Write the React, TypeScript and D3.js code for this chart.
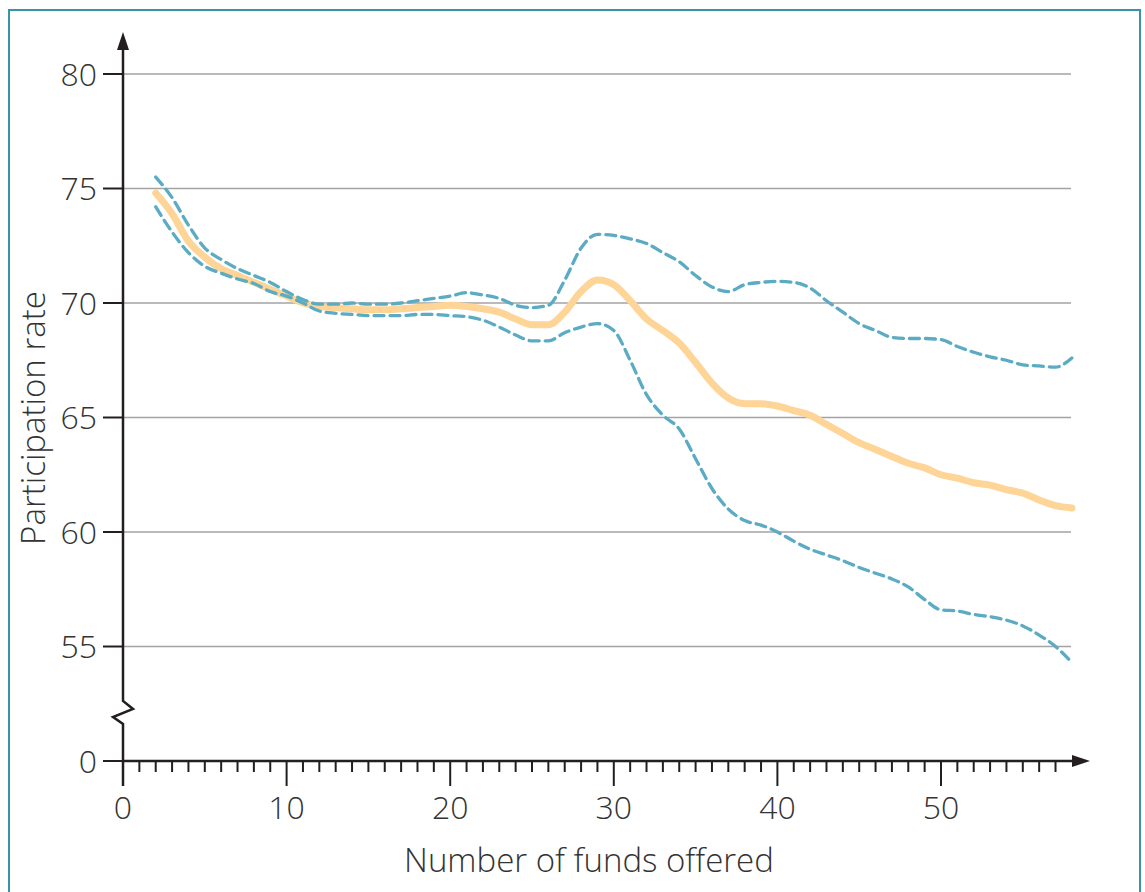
import React, { useRef, useEffect } from "react";
import { select, scaleLinear, line, curveMonotoneX } from "d3";

// Participation rate vs number of funds offered

const funds = [2, 3, 4, 5, 6, 7, 8, 9, 10, 11, 12, 13, 14, 15, 16, 17, 18, 19, 20, 21, 22, 23, 24, 25, 26, 27, 28, 29, 30,
  31, 32, 33, 34, 35, 36, 37, 38, 39, 40, 41, 42, 43, 44, 45, 46, 47, 48, 49, 50, 51, 52, 53, 54, 55, 56, 57, 58];

const meanRate = [74.8, 73.9, 72.7, 72.0, 71.5, 71.2, 70.9, 70.6, 70.3, 70.0, 69.85, 69.8, 69.75, 69.7, 69.7, 69.75, 69.8,
  69.85, 69.9, 69.85, 69.75, 69.6, 69.3, 69.05, 69.05, 69.6, 70.5, 71.0, 70.8, 70.1, 69.3, 68.8, 68.25, 67.4, 66.5, 65.85,
  65.6, 65.6, 65.5, 65.3, 65.1, 64.7, 64.3, 63.9, 63.6, 63.3, 63.0, 62.8, 62.5, 62.35, 62.15, 62.05, 61.85, 61.7, 61.4,
  61.15, 61.05];

const upperRate = [75.5, 74.6, 73.4, 72.4, 71.9, 71.5, 71.2, 70.9, 70.5, 70.15, 69.95, 69.95, 70.0, 69.95, 69.95, 70.0,
  70.1, 70.2, 70.3, 70.45, 70.35, 70.2, 69.9, 69.8, 69.9, 71.0, 72.4, 73.0, 72.95, 72.8, 72.6, 72.2, 71.8, 71.2, 70.7,
  70.5, 70.8, 70.9, 70.95, 70.9, 70.65, 70.1, 69.6, 69.1, 68.8, 68.5, 68.45, 68.45, 68.4, 68.1, 67.85, 67.65, 67.5, 67.3,
  67.25, 67.2, 67.6];

const lowerRate = [74.2, 73.1, 72.2, 71.6, 71.3, 71.05, 70.85, 70.5, 70.3, 70.0, 69.65, 69.55, 69.5, 69.45, 69.45, 69.45,
  69.5, 69.5, 69.45, 69.4, 69.25, 68.95, 68.6, 68.35, 68.35, 68.7, 68.95, 69.1, 68.8, 67.5, 66.0, 65.1, 64.5, 63.2, 61.9,
  61.0, 60.5, 60.3, 60.0, 59.6, 59.25, 59.0, 58.75, 58.45, 58.2, 57.95, 57.6, 57.05, 56.6, 56.55, 56.4, 56.3, 56.15, 55.9,
  55.5, 55.0, 54.3];

// the axis is broken: the bottom position (50) is labelled 0
const yTickValues = [50, 55, 60, 65, 70, 75, 80];
const yTickLabels = ["0", "55", "60", "65", "70", "75", "80"];
const xMajor = [0, 10, 20, 30, 40, 50];

const width = 1145, height = 892;
const textColor = "#333",
  axisColor = "#231f20",
  gridColor = "#a3a3a3",
  orange = "#fed497",
  teal = "#5aabc3",
  frame = "#3a93a8";
const font = "'Open Sans', 'Noto Sans', sans-serif";
const tickSize = 32, titleSize = 33;

export default function App() {
  const svgRef = useRef(null);

  useEffect(() => {
    const svg = select(svgRef.current);
    svg.selectAll("*").remove();

    const x = scaleLinear().domain([0, 50]).range([123, 941]);
    const y = scaleLinear().domain([50, 80]).range([761, 74]);

    svg.append("rect")
      .attr("x", 9).attr("y", 10)
      .attr("width", 1131).attr("height", 900)
      .attr("fill", "white")
      .attr("stroke", frame).attr("stroke-width", 2);

    // grid lines
    svg.append("g").selectAll("line")
      .data(yTickValues.slice(1))
      .join("line")
      .attr("x1", x(0)).attr("x2", 1071)
      .attr("y1", d => y(d)).attr("y2", d => y(d))
      .attr("stroke", gridColor).attr("stroke-width", 1.3);

    // y ticks and labels
    const yg = svg.append("g");
    yg.selectAll("line")
      .data(yTickValues)
      .join("line")
      .attr("x1", x(0) - 20).attr("x2", x(0))
      .attr("y1", d => y(d)).attr("y2", d => y(d))
      .attr("stroke", axisColor).attr("stroke-width", 2);
    yg.selectAll("text")
      .data(yTickValues)
      .join("text")
      .attr("x", 97).attr("y", d => y(d))
      .attr("dy", "0.36em")
      .attr("text-anchor", "end")
      .attr("font-family", font).attr("font-size", tickSize).attr("font-weight", 300)
      .attr("fill", textColor)
      .text((d, i) => yTickLabels[i]);

    // y axis with break
    const x0 = x(0), yb = y(50);
    svg.append("path")
      .attr("d", `M${x0},${yb + 25}L${x0},724L${x0 - 10},717L${x0 + 10},709L${x0},701L${x0},44`)
      .attr("fill", "none").attr("stroke", axisColor).attr("stroke-width", 2.5);
    svg.append("path")
      .attr("d", `M${x0},32L${x0 - 6},50L${x0 + 6},50Z`)
      .attr("fill", axisColor);

    // x axis
    svg.append("line")
      .attr("x1", x0).attr("x2", 1075)
      .attr("y1", yb).attr("y2", yb)
      .attr("stroke", axisColor).attr("stroke-width", 2.5);
    svg.append("path")
      .attr("d", `M1090,${yb}L1072,${yb - 6}L1072,${yb + 6}Z`)
      .attr("fill", axisColor);

    const minor = [];
    for (let i = 1; i <= 57; i++) if (i % 10 !== 0) minor.push(i);
    svg.append("g").selectAll("line")
      .data(minor)
      .join("line")
      .attr("x1", d => x(d)).attr("x2", d => x(d))
      .attr("y1", yb).attr("y2", yb + 11)
      .attr("stroke", axisColor).attr("stroke-width", 2);
    svg.append("g").selectAll("line")
      .data(xMajor)
      .join("line")
      .attr("x1", d => x(d)).attr("x2", d => x(d))
      .attr("y1", yb).attr("y2", yb + 25)
      .attr("stroke", axisColor).attr("stroke-width", 2);
    svg.append("g").selectAll("text")
      .data(xMajor)
      .join("text")
      .attr("x", d => x(d)).attr("y", 819)
      .attr("text-anchor", "middle")
      .attr("font-family", font).attr("font-size", tickSize).attr("font-weight", 300)
      .attr("fill", textColor)
      .text(d => d);

    // titles
    svg.append("text")
      .attr("x", 589).attr("y", 872)
      .attr("text-anchor", "middle")
      .attr("font-family", font).attr("font-size", titleSize).attr("font-weight", 300)
      .attr("fill", textColor)
      .text("Number of funds offered");
    svg.append("text")
      .attr("transform", `translate(45,418) rotate(-90)`)
      .attr("text-anchor", "middle")
      .attr("font-family", font).attr("font-size", titleSize).attr("font-weight", 300)
      .attr("fill", textColor)
      .text("Participation rate");

    // series
    const mk = vals => line()
      .x((d, i) => x(funds[i]))
      .y(d => y(d))
      .curve(curveMonotoneX)(vals);

    svg.append("path")
      .attr("d", mk(meanRate))
      .attr("fill", "none").attr("stroke", orange)
      .attr("stroke-width", 7).attr("stroke-linecap", "round").attr("stroke-linejoin", "round");

    [upperRate, lowerRate].forEach(vals => {
      svg.append("path")
        .attr("d", mk(vals))
        .attr("fill", "none").attr("stroke", teal)
        .attr("stroke-width", 3.3).attr("stroke-dasharray", "10,6")
        .attr("stroke-linecap", "round");
    });
  }, []);

  return (
    <svg ref={svgRef} width={width} height={height}
      style={{ position: "absolute", left: 0, top: 0, display: "block" }} />
  );
}
